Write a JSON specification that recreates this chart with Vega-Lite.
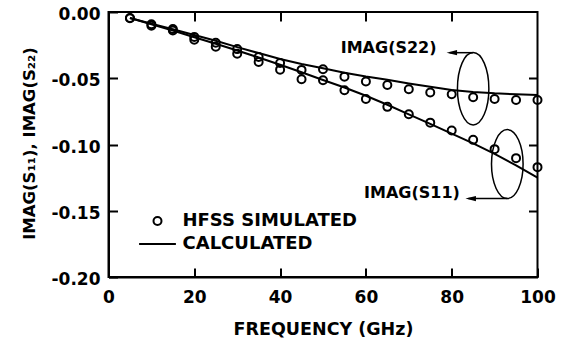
{
  "$schema": "https://vega.github.io/schema/vega-lite/v6.json",
  "width": 429,
  "height": 265,
  "autosize": {"type": "none"},
  "padding": {"left": 108.5, "top": 12, "right": 25.5, "bottom": 66},
  "background": "white",
  "config": {
    "view": {"stroke": "black", "strokeWidth": 2},
    "font": "DejaVu Sans",
    "axis": {
      "domainColor": "black",
      "domainWidth": 2,
      "tickColor": "black",
      "tickWidth": 2,
      "tickSize": -9,
      "grid": false,
      "labelFont": "DejaVu Sans",
      "labelFontWeight": "bold",
      "labelFontSize": 17,
      "labelColor": "black",
      "titleFont": "DejaVu Sans",
      "titleFontWeight": "bold",
      "titleColor": "black",
      "labelFlush": false,
      "labelOverlap": false
    },
    "legend": {
      "orient": "none",
      "legendX": 40,
      "legendY": 200,
      "padding": 0,
      "labelFont": "DejaVu Sans",
      "labelFontWeight": "bold",
      "labelFontSize": 18,
      "labelColor": "black",
      "labelLimit": 0,
      "symbolStrokeColor": "black",
      "symbolFillColor": "transparent",
      "symbolStrokeWidth": 2,
      "symbolSize": 64,
      "labelOffset": 16,
      "rowPadding": 5
    }
  },
  "datasets": {
    "sim": [
      {"f": 5, "series": "S11", "kind": "HFSS SIMULATED", "v": -0.0047},
      {"f": 10, "series": "S11", "kind": "HFSS SIMULATED", "v": -0.0103},
      {"f": 15, "series": "S11", "kind": "HFSS SIMULATED", "v": -0.0140},
      {"f": 20, "series": "S11", "kind": "HFSS SIMULATED", "v": -0.0210},
      {"f": 25, "series": "S11", "kind": "HFSS SIMULATED", "v": -0.0262},
      {"f": 30, "series": "S11", "kind": "HFSS SIMULATED", "v": -0.0315},
      {"f": 35, "series": "S11", "kind": "HFSS SIMULATED", "v": -0.0378},
      {"f": 40, "series": "S11", "kind": "HFSS SIMULATED", "v": -0.0435},
      {"f": 45, "series": "S11", "kind": "HFSS SIMULATED", "v": -0.0508},
      {"f": 50, "series": "S11", "kind": "HFSS SIMULATED", "v": -0.0515},
      {"f": 55, "series": "S11", "kind": "HFSS SIMULATED", "v": -0.0590},
      {"f": 60, "series": "S11", "kind": "HFSS SIMULATED", "v": -0.0657},
      {"f": 65, "series": "S11", "kind": "HFSS SIMULATED", "v": -0.0716},
      {"f": 70, "series": "S11", "kind": "HFSS SIMULATED", "v": -0.0772},
      {"f": 75, "series": "S11", "kind": "HFSS SIMULATED", "v": -0.0835},
      {"f": 80, "series": "S11", "kind": "HFSS SIMULATED", "v": -0.0895},
      {"f": 85, "series": "S11", "kind": "HFSS SIMULATED", "v": -0.0965},
      {"f": 90, "series": "S11", "kind": "HFSS SIMULATED", "v": -0.1035},
      {"f": 95, "series": "S11", "kind": "HFSS SIMULATED", "v": -0.1103},
      {"f": 100, "series": "S11", "kind": "HFSS SIMULATED", "v": -0.1171},
      {"f": 5, "series": "S22", "kind": "HFSS SIMULATED", "v": -0.0045},
      {"f": 10, "series": "S22", "kind": "HFSS SIMULATED", "v": -0.0093},
      {"f": 15, "series": "S22", "kind": "HFSS SIMULATED", "v": -0.0128},
      {"f": 20, "series": "S22", "kind": "HFSS SIMULATED", "v": -0.0188},
      {"f": 25, "series": "S22", "kind": "HFSS SIMULATED", "v": -0.0232},
      {"f": 30, "series": "S22", "kind": "HFSS SIMULATED", "v": -0.0280},
      {"f": 35, "series": "S22", "kind": "HFSS SIMULATED", "v": -0.0340},
      {"f": 40, "series": "S22", "kind": "HFSS SIMULATED", "v": -0.0385},
      {"f": 45, "series": "S22", "kind": "HFSS SIMULATED", "v": -0.0437},
      {"f": 50, "series": "S22", "kind": "HFSS SIMULATED", "v": -0.0432},
      {"f": 55, "series": "S22", "kind": "HFSS SIMULATED", "v": -0.0488},
      {"f": 60, "series": "S22", "kind": "HFSS SIMULATED", "v": -0.0524},
      {"f": 65, "series": "S22", "kind": "HFSS SIMULATED", "v": -0.0551},
      {"f": 70, "series": "S22", "kind": "HFSS SIMULATED", "v": -0.0583},
      {"f": 75, "series": "S22", "kind": "HFSS SIMULATED", "v": -0.0608},
      {"f": 80, "series": "S22", "kind": "HFSS SIMULATED", "v": -0.0621},
      {"f": 85, "series": "S22", "kind": "HFSS SIMULATED", "v": -0.0643},
      {"f": 90, "series": "S22", "kind": "HFSS SIMULATED", "v": -0.0656},
      {"f": 95, "series": "S22", "kind": "HFSS SIMULATED", "v": -0.0664},
      {"f": 100, "series": "S22", "kind": "HFSS SIMULATED", "v": -0.0664}
    ],
    "calc": [
      {"f": 5, "series": "S11", "v": -0.0045},
      {"f": 10, "series": "S11", "v": -0.0092},
      {"f": 15, "series": "S11", "v": -0.0140},
      {"f": 20, "series": "S11", "v": -0.0190},
      {"f": 25, "series": "S11", "v": -0.0240},
      {"f": 30, "series": "S11", "v": -0.0290},
      {"f": 35, "series": "S11", "v": -0.0343},
      {"f": 40, "series": "S11", "v": -0.0398},
      {"f": 45, "series": "S11", "v": -0.0455},
      {"f": 50, "series": "S11", "v": -0.0513},
      {"f": 55, "series": "S11", "v": -0.0570},
      {"f": 60, "series": "S11", "v": -0.0632},
      {"f": 65, "series": "S11", "v": -0.0700},
      {"f": 70, "series": "S11", "v": -0.0772},
      {"f": 75, "series": "S11", "v": -0.0845},
      {"f": 80, "series": "S11", "v": -0.0918},
      {"f": 85, "series": "S11", "v": -0.0992},
      {"f": 90, "series": "S11", "v": -0.1071},
      {"f": 95, "series": "S11", "v": -0.1157},
      {"f": 100, "series": "S11", "v": -0.1250},
      {"f": 5, "series": "S22", "v": -0.0045},
      {"f": 10, "series": "S22", "v": -0.0088},
      {"f": 15, "series": "S22", "v": -0.0130},
      {"f": 20, "series": "S22", "v": -0.0173},
      {"f": 25, "series": "S22", "v": -0.0217},
      {"f": 30, "series": "S22", "v": -0.0265},
      {"f": 35, "series": "S22", "v": -0.0310},
      {"f": 40, "series": "S22", "v": -0.0355},
      {"f": 45, "series": "S22", "v": -0.0392},
      {"f": 50, "series": "S22", "v": -0.0425},
      {"f": 55, "series": "S22", "v": -0.0458},
      {"f": 60, "series": "S22", "v": -0.0487},
      {"f": 65, "series": "S22", "v": -0.0512},
      {"f": 70, "series": "S22", "v": -0.0540},
      {"f": 75, "series": "S22", "v": -0.0565},
      {"f": 80, "series": "S22", "v": -0.0588},
      {"f": 85, "series": "S22", "v": -0.0603},
      {"f": 90, "series": "S22", "v": -0.0614},
      {"f": 95, "series": "S22", "v": -0.0621},
      {"f": 100, "series": "S22", "v": -0.0626}
    ]
  },
  "layer": [
    {
      "data": {"name": "calc"},
      "mark": {"type": "line", "color": "black", "strokeWidth": 2},
      "encoding": {
        "x": {
          "field": "f", "type": "quantitative",
          "scale": {"domain": [0, 100], "nice": false, "zero": false},
          "axis": {
            "orient": "bottom",
            "values": [0, 20, 40, 60, 80, 100],
            "labelBaseline": "alphabetic",
            "labelPadding": 34.5,
            "title": "FREQUENCY (GHz)",
            "titleFontSize": 17.5,
            "titleBaseline": "alphabetic",
            "titleY": 57,
            "titleX": 214.5
          }
        },
        "y": {
          "field": "v", "type": "quantitative",
          "scale": {"domain": [-0.2, 0], "nice": false, "zero": false},
          "axis": {
            "orient": "left",
            "values": [-0.2, -0.15, -0.1, -0.05, 0],
            "labelExpr": "replace(format(datum.value, '.2f'), '\u2212', '-')",
            "labelPadding": 17.5,
            "labelOffset": 2.5,
            "title": "IMAG(S\u2081\u2081), IMAG(S\u2082\u2082)",
            "titleFontSize": 16.5,
            "titleAngle": -90,
            "titleBaseline": "alphabetic",
            "titleX": -74,
            "titleY": 131
          }
        },
        "detail": {"field": "series"}
      }
    },
    {
      "data": {"name": "sim"},
      "mark": {"type": "point", "filled": false, "color": "black", "strokeWidth": 2, "size": 64, "opacity": 1},
      "encoding": {
        "x": {"field": "f", "type": "quantitative", "axis": null},
        "y": {"field": "v", "type": "quantitative", "axis": null},
        "shape": {
          "field": "kind", "type": "nominal",
          "scale": {"domain": ["HFSS SIMULATED", "CALCULATED"], "range": ["circle", "M-4.6,0H4.6"]},
          "legend": {"title": null}
        }
      }
    },
    {
      "data": {"values": [{"f": 85.0, "v": -0.0579}]},
      "mark": {
        "type": "point", "filled": false, "color": "black", "strokeWidth": 1.5, "opacity": 1,
        "size": 5242,
        "shape": "M0,-1C0.2397,-1 0.434,-0.5523 0.434,0C0.434,0.5523 0.2397,1 0,1C-0.2397,1 -0.434,0.5523 -0.434,0C-0.434,-0.5523 -0.2397,-1 0,-1Z"
      },
      "encoding": {
        "x": {"field": "f", "type": "quantitative", "axis": {"orient": "top", "values": [20, 40, 60, 80], "labels": false, "domain": false, "title": null}},
        "y": {"field": "v", "type": "quantitative", "axis": {"orient": "right", "values": [-0.15, -0.1, -0.05], "labels": false, "domain": false, "title": null}}
      }
    },
    {
      "data": {"values": [{"f": 92.96, "v": -0.1148}]},
      "mark": {
        "type": "point", "filled": false, "color": "black", "strokeWidth": 1.5, "opacity": 1,
        "size": 4761,
        "shape": "M0,-1C0.253,-1 0.458,-0.5523 0.458,0C0.458,0.5523 0.253,1 0,1C-0.253,1 -0.458,0.5523 -0.458,0C-0.458,-0.5523 -0.253,-1 0,-1Z"
      },
      "encoding": {
        "x": {"field": "f", "type": "quantitative", "axis": null},
        "y": {"field": "v", "type": "quantitative", "axis": null}
      }
    },
    {
      "data": {"values": [
        {"f": 79.5, "f2": 85.0, "v": -0.0307},
        {"f": 83.9, "f2": 92.96, "v": -0.1408}
      ]},
      "mark": {"type": "rule", "color": "black", "strokeWidth": 1.5},
      "encoding": {
        "x": {"field": "f", "type": "quantitative", "axis": null},
        "x2": {"field": "f2"},
        "y": {"field": "v", "type": "quantitative", "axis": null}
      }
    },
    {
      "data": {"values": [
        {"f": 78.8, "v": -0.0307},
        {"f": 83.2, "v": -0.1408}
      ]},
      "mark": {"type": "point", "filled": true, "color": "black", "opacity": 1, "strokeWidth": 0, "size": 441, "shape": "M0,0L1,-0.25L1,0.25Z"},
      "encoding": {
        "x": {"field": "f", "type": "quantitative", "axis": null},
        "y": {"field": "v", "type": "quantitative", "axis": null}
      }
    },
    {
      "data": {"values": [
        {"f": 76.47, "v": -0.0274, "label": "IMAG(S22)"},
        {"f": 81.9, "v": -0.1367, "label": "IMAG(S11)"}
      ]},
      "mark": {"type": "text", "align": "right", "baseline": "middle", "font": "DejaVu Sans", "fontWeight": "bold", "fontSize": 16, "color": "black"},
      "encoding": {
        "x": {"field": "f", "type": "quantitative", "axis": null},
        "y": {"field": "v", "type": "quantitative", "axis": null},
        "text": {"field": "label"}
      }
    }
  ]
}
